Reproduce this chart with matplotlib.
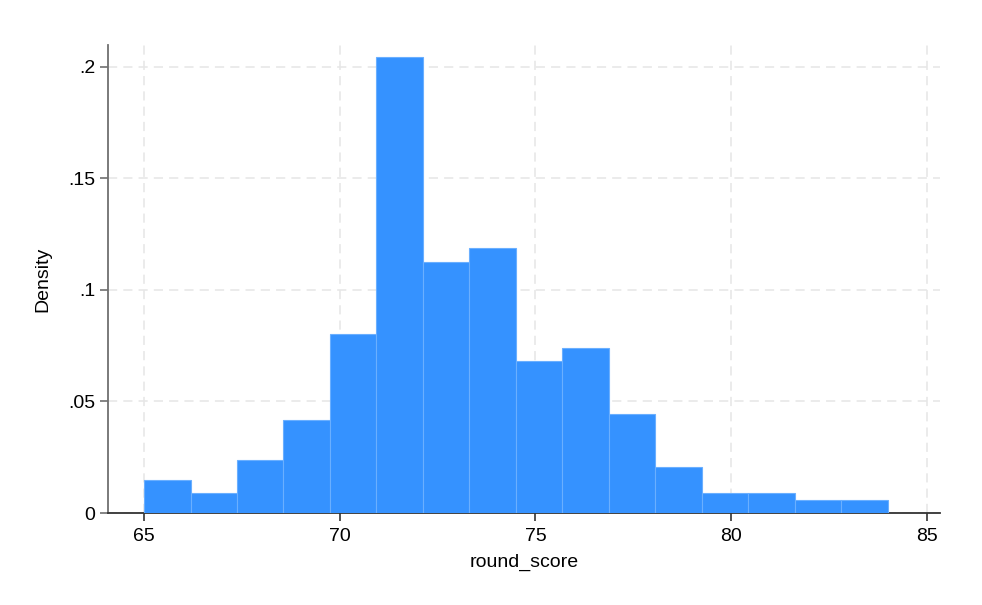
import numpy as np
import matplotlib
matplotlib.use("Agg")
import matplotlib.pyplot as plt

# round scores histogram (16 bins from 65 to 84)
bin_start = 65
bin_end = 84
counts = [5, 3, 8, 14, 27, 69, 38, 40, 23, 25, 15, 7, 3, 3, 2, 2]

edges = np.linspace(bin_start, bin_end, len(counts) + 1)
width = edges[1] - edges[0]
density = np.array(counts) / (sum(counts) * width)

plt.rcParams['font.family'] = ['Liberation Sans', 'DejaVu Sans']

fig = plt.figure(figsize=(9.82, 6.05), dpi=100)
ax = fig.add_axes([0.110, 0.152, 0.847, 0.774])

ax.bar(edges[:-1], density, width=width, align='edge',
       color='#3592ff', edgecolor='#6aafff', linewidth=0.8, zorder=3)

ax.set_xlim(64.08, 85.33)
ax.set_ylim(0, 0.2099)
ax.set_xticks([65, 70, 75, 80, 85])
ax.set_yticks([0, 0.05, 0.1, 0.15, 0.2])
ax.set_yticklabels(["0", ".05", ".1", ".15", ".2"])

ax.grid(True, color='#e6e6e6', linestyle=(0, (6, 4)), linewidth=1.1, zorder=0)

for s in ['top', 'right']:
    ax.spines[s].set_visible(False)
ax.spines['left'].set_color('#707070')
ax.spines['left'].set_linewidth(1.3)
ax.spines['bottom'].set_color('#333333')
ax.spines['bottom'].set_linewidth(1.3)
ax.tick_params(axis='y', length=6, width=1.2, color='#707070', labelsize=14, pad=3)
ax.tick_params(axis='x', length=6, width=1.2, color='#333333', labelsize=14, pad=5)

ax.set_ylabel("Density", fontsize=14, labelpad=12)
ax.set_xlabel("round_score", fontsize=14, labelpad=6)

fig.savefig("out.png", dpi=100, facecolor='white')
